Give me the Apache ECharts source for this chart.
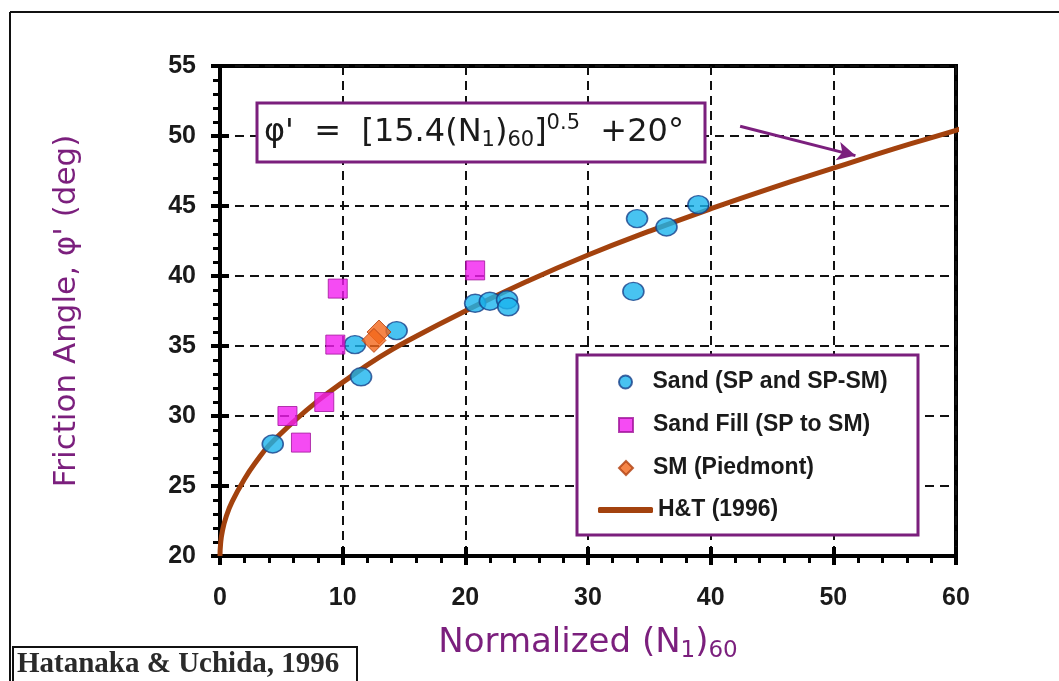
<!DOCTYPE html>
<html><head><meta charset="utf-8">
<script src="https://cdn.jsdelivr.net/npm/echarts@6/dist/echarts.min.js"></script>
<style>html,body{margin:0;padding:0;background:#fff}#c{width:1059px;height:681px}</style>
</head><body><div id="c"></div>
<script>
// ---- data ----
var xTicks = [0, 10, 20, 30, 40, 50, 60];
var yTicks = [20, 25, 30, 35, 40, 45, 50, 55];
var sandN   = [4.3, 11.0, 11.5, 14.4, 20.8, 22.0, 23.4, 23.5, 33.7, 34.0, 36.4, 39.0];
var sandPhi = [28.0, 35.1, 32.8, 36.1, 38.05, 38.2, 38.3, 37.8, 38.9, 44.1, 43.5, 45.1];
var fillN   = [9.6, 9.4, 8.5, 5.5, 6.6, 20.8];
var fillPhi = [39.1, 35.1, 31.0, 30.0, 28.1, 40.4];
var smN     = [12.96, 12.55];
var smPhi   = [36.0, 35.4];
var curveN   = [0, 0.05, 0.2, 0.5, 1, 2, 3, 4, 6, 8, 10, 13, 16, 20, 25, 30, 35, 40, 45, 50, 55, 60, 61];
var curvePhi = [20, 20.9, 21.8, 22.8, 23.9, 25.5, 26.8, 27.9, 29.6, 31.1, 32.4, 34.2, 35.7, 37.5, 39.6, 41.5, 43.2, 44.8, 46.3, 47.7, 49.1, 50.4, 50.7];
var arrowFrom = [42.4, 50.7];
var arrowTo   = [51.8, 48.6];
var seriesNames = ['Sand (SP and SP-SM)', 'Sand Fill (SP to SM)', 'SM (Piedmont)', 'H&T (1996)'];

function pairs(a, b) { return a.map(function (v, i) { return [v, b[i]]; }); }

var PURPLE = '#7b1f7d';
var chart = echarts.init(document.getElementById('c'));

var baseX = {
  type: 'value', min: xTicks[0], max: xTicks[xTicks.length - 1], interval: 10,
  axisLine: { show: true, lineStyle: { color: '#000', width: 4 } },
  axisTick: { show: true, length: 9, lineStyle: { color: '#000', width: 4 } },
  minorTick: { show: true, splitNumber: 5, length: 7, lineStyle: { color: '#000', width: 3 } },
  splitLine: { show: true, lineStyle: { color: '#111', width: 2, type: [9, 6] } },
  axisLabel: { margin: 30, color: '#1a1a1a', fontFamily: 'Liberation Sans', fontWeight: 'bold', fontSize: 25 }
};
var baseY = {
  type: 'value', min: yTicks[0], max: yTicks[yTicks.length - 1], interval: 5,
  axisLine: { show: true, lineStyle: { color: '#000', width: 4 } },
  axisTick: { show: true, length: 9, lineStyle: { color: '#000', width: 4 } },
  minorTick: { show: true, splitNumber: 5, length: 7, lineStyle: { color: '#000', width: 3 } },
  splitLine: { show: true, lineStyle: { color: '#111', width: 2, type: [9, 6] } },
  axisLabel: { margin: 24, color: '#1a1a1a', fontFamily: 'Liberation Sans', fontWeight: 'bold', fontSize: 25 }
};

function mkLegend(name, icon, top, w, h, left, pad) {
  return { data: [{ name: name, icon: icon }], left: left, top: top, itemWidth: w, itemHeight: h,
           itemGap: 5, selectedMode: false, z: 10,
           textStyle: { color: '#1a1a1a', fontFamily: 'Liberation Sans', fontWeight: 'bold', fontSize: 23, lineHeight: 24, padding: [0, 0, 0, pad] } };
}

chart.setOption({
  animation: false,
  backgroundColor: '#fff',
  grid: { left: 220, right: 103, top: 66, bottom: 125, show: true, borderColor: '#000', borderWidth: 4, backgroundColor: 'transparent' },
  xAxis: [
    Object.assign({}, baseX, {
      name: '{a|Normalized (N}{s|1}{a|)}{s|60}', nameLocation: 'middle', nameGap: 68,
      nameTextStyle: { rich: {
        a: { fontFamily: 'DejaVu Sans', fontSize: 34, color: PURPLE },
        s: { fontFamily: 'DejaVu Sans', fontSize: 23, color: PURPLE, padding: [16, 0, 0, 0] } } }
    }),
    { type: 'value', min: xTicks[0], max: xTicks[xTicks.length - 1], interval: 10, position: 'bottom',
      axisLine: { show: false }, axisLabel: { show: false }, splitLine: { show: false },
      axisTick: { show: true, inside: true, length: 9, lineStyle: { color: '#000', width: 4 } } }
  ],
  yAxis: [
    Object.assign({}, baseY, {
      name: "Friction Angle, \u03c6' (deg)", nameLocation: 'middle', nameGap: 138, nameRotate: 90,
      nameTextStyle: { fontFamily: 'DejaVu Sans', fontSize: 31, color: PURPLE }
    }),
    { type: 'value', min: yTicks[0], max: yTicks[yTicks.length - 1], interval: 5, position: 'left',
      axisLine: { show: false }, axisLabel: { show: false }, splitLine: { show: false },
      axisTick: { show: true, inside: true, length: 9, lineStyle: { color: '#000', width: 4 } } }
  ],
  legend: [
    mkLegend(seriesNames[0], 'circle', 365, 14, 13, 613, 15),
    mkLegend(seriesNames[1], 'rect', 408, 14, 14, 613, 15),
    mkLegend(seriesNames[2], 'diamond', 451, 14, 14, 613, 15),
    mkLegend(seriesNames[3], 'roundRect', 493, 55, 6, 593, 0)
  ],
  graphic: [
    { type: 'line', shape: { x1: 10, y1: 12, x2: 1059, y2: 12 }, style: { stroke: '#111', lineWidth: 2 }, z: 1 },
    { type: 'line', shape: { x1: 10, y1: 12, x2: 10, y2: 681 }, style: { stroke: '#111', lineWidth: 2 }, z: 1 },
    { type: 'rect', shape: { x: 577, y: 355, width: 341, height: 180 }, style: { fill: '#fff', stroke: PURPLE, lineWidth: 3 }, z: 5 },
    { type: 'rect', shape: { x: 257, y: 103, width: 448, height: 59 }, style: { fill: '#fff', stroke: PURPLE, lineWidth: 3 }, z: 5 },
    { type: 'text', x: 264, y: 133, z: 6, style: {
        text: "{t|\u03c6'  =  [15.4(N}{sb|1}{t|)}{sb|60}{t|]}{sp|0.5}{t|  +20\u00b0}",
        verticalAlign: 'middle',
        rich: {
          t: { fontFamily: 'DejaVu Sans', fontSize: 32, fill: '#1a1a1a' },
          sb: { fontFamily: 'DejaVu Sans', fontSize: 21, fill: '#1a1a1a', padding: [16, 0, 0, 0] },
          sp: { fontFamily: 'DejaVu Sans', fontSize: 21, fill: '#1a1a1a', padding: [0, 0, 18, 0] }
        } } },
    { type: 'rect', shape: { x: 13, y: 647, width: 344, height: 40 }, style: { fill: '#fff', stroke: '#111', lineWidth: 2 }, z: 5 },
    { type: 'text', x: 17, y: 665, z: 6, style: { text: 'Hatanaka & Uchida, 1996', fontFamily: 'Liberation Serif', fontWeight: 'bold', fontSize: 29, fill: '#2a2a2a', verticalAlign: 'middle' } }
  ],
  series: [
    { name: seriesNames[0], type: 'scatter', data: pairs(sandN, sandPhi), symbol: 'circle', symbolSize: [21, 18], z: 4,
      itemStyle: { color: '#1ab4ee', borderColor: '#17408a', borderWidth: 1.5 } },
    { name: seriesNames[1], type: 'scatter', data: pairs(fillN, fillPhi), symbol: 'rect', symbolSize: 19, z: 4,
      itemStyle: { color: '#f21ef0', borderColor: '#a0149a', borderWidth: 1 } },
    { name: seriesNames[2], type: 'scatter', data: pairs(smN, smPhi), symbol: 'diamond', symbolSize: 24, z: 4,
      itemStyle: { color: '#f2661a', borderColor: '#b0400f', borderWidth: 1 } },
    { name: seriesNames[3], type: 'line', data: pairs(curveN, curvePhi), smooth: true, showSymbol: false, clip: false, z: 3,
      lineStyle: { color: '#a3420e', width: 5 }, itemStyle: { color: '#a3420e' },
      markLine: { silent: true, symbol: ['none', 'arrow'], symbolSize: [14, 18], label: { show: false },
        lineStyle: { color: PURPLE, width: 3, type: 'solid' },
        data: [[{ coord: arrowFrom }, { coord: arrowTo }]] } }
  ]
});
</script></body></html>
